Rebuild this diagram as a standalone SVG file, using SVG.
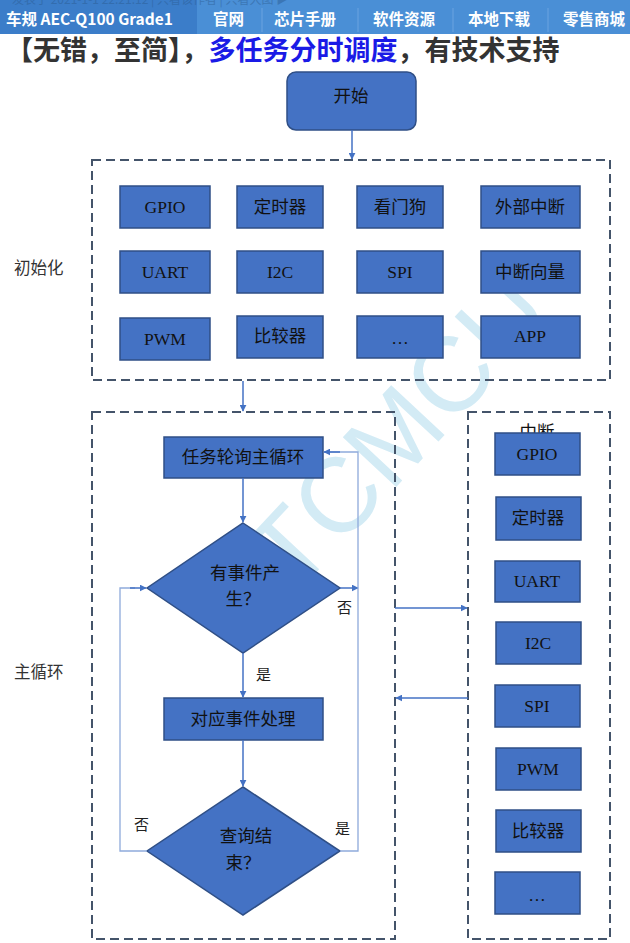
<svg xmlns="http://www.w3.org/2000/svg" width="630" height="943" viewBox="0 0 630 943">
<defs>
<style>
.box{fill:#4472c4;stroke:#2f4f86;stroke-width:1.5}
.bt{font-family:"Liberation Serif","Noto Sans CJK SC",serif;font-size:17.5px;fill:#111;text-anchor:middle;dominant-baseline:central}
.dash{fill:none;stroke:#44546a;stroke-width:2;stroke-dasharray:9 5}
.ln{fill:none;stroke:#4472c4;stroke-width:1.5}
.lnt{fill:none;stroke:#8eaadb;stroke-width:1.3}
.lbl{font-family:"Noto Sans CJK SC","Liberation Sans",sans-serif;font-size:16.5px;fill:#333}
.yn{font-family:"Noto Sans CJK SC",serif;font-size:15px;fill:#222}
.nav{font-family:"Noto Sans CJK SC","Liberation Sans",sans-serif;font-size:15.5px;font-weight:bold;fill:#fff}
</style>
<marker id="ah" viewBox="0 0 10 10" refX="9" refY="5" markerWidth="7" markerHeight="7" orient="auto" markerUnits="userSpaceOnUse"><path d="M0,0 L10,5 L0,10 z" fill="#4472c4"/></marker>
</defs>
<rect width="630" height="943" fill="#fff"/>
<!-- watermark -->
<text x="398" y="468" transform="rotate(-47 398 432)" text-anchor="middle" font-family="Liberation Sans,sans-serif" font-size="106" fill="#d3ebf5">TCMCU</text>
<!-- header -->
<g id="header">
<rect x="0" y="0" width="630" height="34" fill="#4a8fd6"/>
<rect x="0" y="0" width="197" height="34" fill="#3b7dc9"/>
<text x="12" y="4" font-family="Noto Sans CJK SC,sans-serif" font-size="12" fill="#2a5a8f" opacity="0.45">发表于 2021-1-1 22:21:12 | 只看该作者 | 只看大图 ▶</text>
<g stroke="#6aa3e0" stroke-width="1"><line x1="262" y1="8" x2="262" y2="32"/><line x1="358" y1="8" x2="358" y2="32"/><line x1="453" y1="8" x2="453" y2="32"/><line x1="548" y1="8" x2="548" y2="32"/></g>
<text class="nav" x="6" y="25">车规 AEC-Q100 Grade1</text>
<text class="nav" x="213" y="25">官网</text>
<text class="nav" x="274" y="25">芯片手册</text>
<text class="nav" x="373" y="25">软件资源</text>
<text class="nav" x="468" y="25">本地下载</text>
<text class="nav" x="563" y="25">零售商城</text>
<text x="6" y="60" font-family="Noto Sans CJK SC,sans-serif" font-size="27" font-weight="bold" fill="#333">【无错，至简】，<tspan fill="#1a1ae6">多任务分时调度</tspan>，有技术支持</text>
</g>
<!-- containers -->
<g id="init">
<rect class="dash" x="92" y="160" width="518" height="220"/>
<text class="lbl" x="14" y="274">初始化</text>
</g>
<g id="mainloop">
<rect class="dash" x="92" y="412" width="303" height="527"/>
<text class="lbl" x="14" y="678">主循环</text>
</g>
<g id="interrupt">
<rect class="dash" x="468" y="412" width="142" height="527"/>
<text class="bt" x="537" y="432">中断</text>
</g>
<!-- start -->
<g id="start"><rect x="287" y="72" width="129" height="58" rx="9" class="box" stroke-width="2"/><text class="bt" x="351" y="96">开始</text></g>
<!-- init modules -->
<g id="i-gpio"><rect class="box" x="120" y="186" width="90" height="42"/><text class="bt" x="165" y="207">GPIO</text></g>
<g id="i-timer"><rect class="box" x="237" y="186" width="86" height="42"/><text class="bt" x="280" y="207">定时器</text></g>
<g id="i-wdt"><rect class="box" x="357" y="186" width="86" height="42"/><text class="bt" x="400" y="207">看门狗</text></g>
<g id="i-exti"><rect class="box" x="481" y="186" width="99" height="42"/><text class="bt" x="530" y="207">外部中断</text></g>
<g id="i-uart"><rect class="box" x="120" y="251" width="90" height="42"/><text class="bt" x="165" y="272">UART</text></g>
<g id="i-i2c"><rect class="box" x="237" y="251" width="86" height="42"/><text class="bt" x="280" y="272">I2C</text></g>
<g id="i-spi"><rect class="box" x="357" y="251" width="86" height="42"/><text class="bt" x="400" y="272">SPI</text></g>
<g id="i-vec"><rect class="box" x="481" y="251" width="99" height="42"/><text class="bt" x="530" y="272">中断向量</text></g>
<g id="i-pwm"><rect class="box" x="120" y="318" width="90" height="42"/><text class="bt" x="165" y="339">PWM</text></g>
<g id="i-cmp"><rect class="box" x="237" y="316" width="86" height="42"/><text class="bt" x="280" y="336">比较器</text></g>
<g id="i-more"><rect class="box" x="357" y="316" width="86" height="42"/><text class="bt" x="400" y="338">…</text></g>
<g id="i-app"><rect class="box" x="481" y="316" width="99" height="42"/><text class="bt" x="530" y="336">APP</text></g>
<!-- main loop nodes -->
<g id="poll"><rect class="box" x="164" y="437" width="159" height="41"/><text class="bt" x="243" y="457">任务轮询主循环</text></g>
<g id="event"><polygon class="box" points="243,523 340,588 243,653 147,588"/><text class="bt" x="245" y="573">有事件产</text><text class="bt" x="243" y="599">生？</text></g>
<g id="handle"><rect class="box" x="164" y="698" width="159" height="42"/><text class="bt" x="243" y="719">对应事件处理</text></g>
<g id="done"><polygon class="box" points="243,787 340,851 243,915 147,851"/><text class="bt" x="246" y="836">查询结</text><text class="bt" x="243" y="863">束？</text></g>
<!-- interrupt modules -->
<g id="q-gpio"><rect class="box" x="495" y="433" width="85" height="42"/><text class="bt" x="537" y="454">GPIO</text></g>
<g id="q-timer"><rect class="box" x="496" y="497" width="85" height="43"/><text class="bt" x="538" y="518">定时器</text></g>
<g id="q-uart"><rect class="box" x="495" y="561" width="85" height="41"/><text class="bt" x="537" y="581">UART</text></g>
<g id="q-i2c"><rect class="box" x="496" y="622" width="85" height="42"/><text class="bt" x="538" y="643">I2C</text></g>
<g id="q-spi"><rect class="box" x="495" y="685" width="85" height="42"/><text class="bt" x="537" y="706">SPI</text></g>
<g id="q-pwm"><rect class="box" x="496" y="748" width="85" height="42"/><text class="bt" x="538" y="769">PWM</text></g>
<g id="q-cmp"><rect class="box" x="496" y="810" width="85" height="42"/><text class="bt" x="538" y="831">比较器</text></g>
<g id="q-more"><rect class="box" x="495" y="872" width="85" height="42"/><text class="bt" x="537" y="895">…</text></g>
<!-- connectors -->
<g id="connectors">
<line class="ln" x1="352" y1="130" x2="352" y2="159" marker-end="url(#ah)"/>
<line class="ln" x1="243" y1="381" x2="243" y2="411" marker-end="url(#ah)"/>
<line class="ln" x1="243" y1="478" x2="243" y2="522" marker-end="url(#ah)"/>
<line class="ln" x1="243" y1="653" x2="243" y2="697" marker-end="url(#ah)"/>
<line class="ln" x1="243" y1="740" x2="243" y2="786" marker-end="url(#ah)"/>
<line class="ln" x1="340" y1="588" x2="358" y2="588" marker-end="url(#ah)"/>
<polyline class="lnt" points="340,851 358,851 358,452 325,452"/>
<line class="ln" x1="340" y1="452" x2="324" y2="452" marker-end="url(#ah)"/>
<polyline class="lnt" points="147,851 120,851 120,588 135,588"/>
<line class="ln" x1="130" y1="588" x2="146" y2="588" marker-end="url(#ah)"/>
<line class="ln" x1="395" y1="608" x2="467" y2="608" marker-end="url(#ah)"/>
<line class="ln" x1="468" y1="698" x2="396" y2="698" marker-end="url(#ah)"/>
<text class="yn" x="337" y="613">否</text>
<text class="yn" x="256" y="680">是</text>
<text class="yn" x="134" y="830">否</text>
<text class="yn" x="335" y="834">是</text>
</g>
</svg>
